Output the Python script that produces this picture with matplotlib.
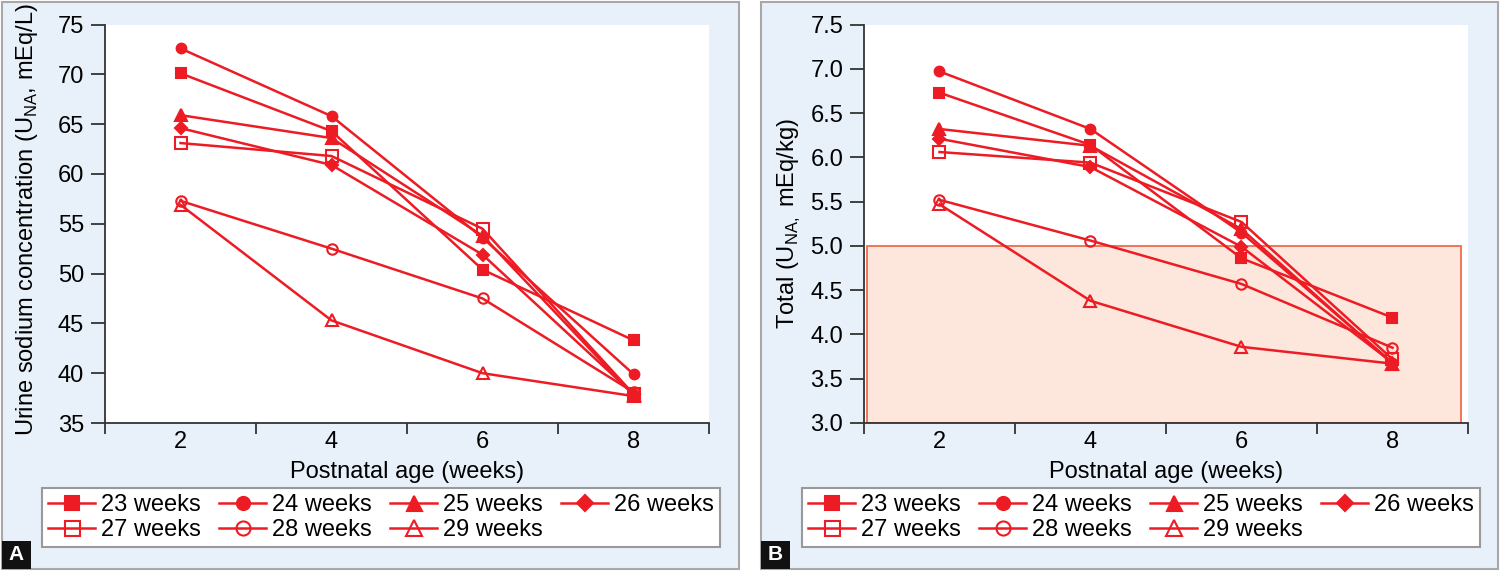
import matplotlib
matplotlib.use("Agg")
import matplotlib.pyplot as plt
from matplotlib.patches import Rectangle
import numpy as np

plt.rcParams['font.family'] = ['Liberation Sans', 'DejaVu Sans']
plt.rcParams['mathtext.fontset'] = 'custom'
plt.rcParams['mathtext.rm'] = 'Liberation Sans'

# ---------------- data ----------------
ages = [2, 4, 6, 8]
age_labels = ['2', '4', '6', '8']
series_labels = ['23 weeks', '24 weeks', '25 weeks', '26 weeks',
                 '27 weeks', '28 weeks', '29 weeks']

conc_23 = [70.1, 64.3, 50.4, 43.3]
conc_24 = [72.6, 65.8, 53.6, 39.9]
conc_25 = [65.9, 63.6, 53.8, 37.8]
conc_26 = [64.6, 60.9, 51.9, 37.9]
conc_27 = [63.1, 61.8, 54.5, 37.9]
conc_28 = [57.3, 52.5, 47.5, 38.1]
conc_29 = [56.9, 45.3, 40.0, 37.7]

total_23 = [6.73, 6.14, 4.86, 4.19]
total_24 = [6.97, 6.32, 5.15, 3.68]
total_25 = [6.32, 6.13, 5.19, 3.67]
total_26 = [6.21, 5.89, 4.99, 3.68]
total_27 = [6.06, 5.94, 5.27, 3.72]
total_28 = [5.52, 5.06, 4.57, 3.85]
total_29 = [5.47, 4.38, 3.86, 3.67]

shade_low, shade_high = 3.0, 5.0

conc_series = [conc_23, conc_24, conc_25, conc_26, conc_27, conc_28, conc_29]
total_series = [total_23, total_24, total_25, total_26, total_27, total_28, total_29]

# ---------------- style ----------------
RED = '#ed1c24'
BG = '#e8f1fa'
markers = ['s', 'o', '^', 'D', 's', 'o', '^']
filled = [True, True, True, True, False, False, False]
msizes = [7.5, 7, 8, 6, 8, 7.5, 8.5]
FS = 17

W, H = 1500, 571
fig = plt.figure(figsize=(15, 5.71), dpi=100)

def fx(px):
    return px / W

def fy(py):
    return 1 - py / H

# panel backgrounds
for x0, x1 in [(2, 739), (761, 1498)]:
    fig.patches.append(Rectangle((fx(x0), fy(569)), fx(x1 - x0), (567) / H,
                                 transform=fig.transFigure, facecolor=BG,
                                 edgecolor='#a8a8a8', linewidth=1.5, zorder=-5))

def make_axes(left_px, series, ylim, yticks, ytickfmt):
    ax = fig.add_axes([fx(left_px), fy(423), fx(604), (423 - 24.5) / H])
    ax.set_zorder(2)
    ax.set_facecolor('white')
    handles = []
    for vals, lab, m, f, ms in zip(series, series_labels, markers, filled, msizes):
        h, = ax.plot(ages, vals, color=RED, linewidth=1.8, marker=m,
                     markersize=ms, markerfacecolor=RED if f else 'none',
                     markeredgecolor=RED, markeredgewidth=1.5, label=lab,
                     zorder=3, clip_on=False)
        handles.append(h)
    ax.set_xlim(1, 9)
    ax.set_ylim(*ylim)
    ax.set_xticks([1, 3, 5, 7, 9])
    ax.set_xticklabels([])
    ax.set_xticks(ages, minor=True)
    ax.set_xticklabels(age_labels, minor=True)
    ax.tick_params(axis='x', which='major', length=8, width=1.3, direction='out',
                   color='#333333')
    ax.tick_params(axis='x', which='minor', length=0, pad=6, labelsize=FS)
    ax.set_yticks(yticks)
    ax.set_yticklabels([ytickfmt.format(v) for v in yticks])
    ax.tick_params(axis='y', length=10, width=1.3, direction='out', color='#333333',
                   labelsize=FS, pad=5)
    for s in ['top', 'right']:
        ax.spines[s].set_visible(False)
    for s in ['left', 'bottom']:
        ax.spines[s].set_color('#333333')
        ax.spines[s].set_linewidth(1.3)
    return ax, handles

axA, hA = make_axes(105, conc_series, (35, 75), list(range(35, 80, 5)), '{:d}')
axB, hB = make_axes(864, total_series, (3.0, 7.5),
                    [3.0, 3.5, 4.0, 4.5, 5.0, 5.5, 6.0, 6.5, 7.0, 7.5], '{:.1f}')

# shaded reference band in panel B
axB.add_patch(Rectangle((1.04, shade_low), 8.91 - 1.04, shade_high - shade_low,
                        facecolor='#fde6dc', edgecolor='#ef6a4e', linewidth=1.3,
                        zorder=1))

# axis labels
fig.text(fx(27), fy(220), 'Urine sodium concentration (U$_{\\mathregular{NA}}$, mEq/L)',
         rotation=90, ha='center', va='center', fontsize=FS)
fig.text(fx(789), fy(224), 'Total (U$_{\\mathregular{NA,}}$ mEq/kg)',
         rotation=90, ha='center', va='center', fontsize=FS)
for cx in [407, 1166]:
    fig.text(fx(cx), fy(472), 'Postnatal age (weeks)', ha='center', va='center',
             fontsize=FS)

# legends (row-major order for 4 columns x 2 rows)
order = [0, 4, 1, 5, 2, 6, 3]
for ax, hs, x0, x1 in [(axA, hA, 42, 720), (axB, hB, 802, 1480)]:
    leg = fig.legend([hs[i] for i in order], [series_labels[i] for i in order],
                     loc='upper left', ncol=4,
                     bbox_to_anchor=(fx(x0), fy(488), fx(x1 - x0), 0.0),
                     bbox_transform=fig.transFigure, mode='expand',
                     fontsize=FS, frameon=True, fancybox=False, framealpha=1,
                     edgecolor='#999999', handlelength=2.0, handletextpad=0.25,
                     columnspacing=0.8, labelspacing=0.15, borderpad=0.25,
                     markerscale=1.35, borderaxespad=0)
    leg.get_frame().set_linewidth(1.5)

# panel letters
for x0, letter in [(2, 'A'), (761, 'B')]:
    fig.patches.append(Rectangle((fx(x0), fy(569)), fx(29), 28 / H,
                                 transform=fig.transFigure, facecolor='#111111',
                                 edgecolor='none', zorder=5))
    fig.text(fx(x0 + 14.5), fy(555), letter, color='white', fontsize=15,
             fontweight='bold', ha='center', va='center', zorder=6)

fig.savefig('out.png', dpi=100)
